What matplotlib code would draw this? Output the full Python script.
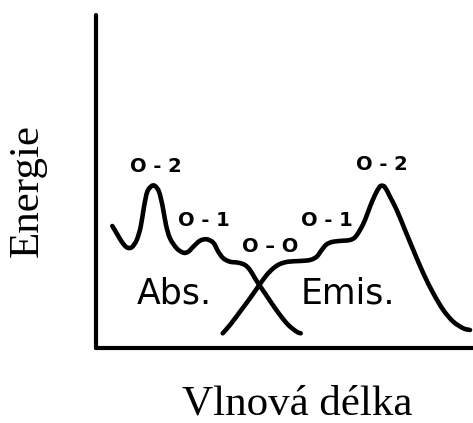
import matplotlib
matplotlib.use("Agg")
import matplotlib.pyplot as plt
from matplotlib.path import Path
from matplotlib.patches import PathPatch

# Absorption band (left) and emission band (right), arbitrary units
abs_x = [16.3, 20.7, 25.7, 30.7, 35.7, 40.7, 44.7, 48.0, 51.3, 55.7, 59.0, 63.0,
         66.7, 70.0, 74.0, 80.7, 87.3, 92.3, 97.3, 104.0, 110.7, 117.3, 122.3,
         127.3, 134.0, 142.3, 149.0, 154.0, 159.0, 163.3, 169.0, 175.7, 184.0,
         192.3, 200.7, 204.7]
abs_y = [122.0, 114.7, 106.3, 100.7, 100.7, 108.0, 121.3, 141.3, 156.3, 162.0,
         162.0, 156.3, 141.3, 123.0, 109.7, 99.7, 95.3, 96.3, 101.3, 107.3, 108.7,
         105.3, 96.3, 89.7, 86.3, 85.3, 83.0, 78.0, 69.7, 63.0, 54.7, 44.7, 33.0,
         23.0, 16.3, 14.7]

emis_x = [126.7, 134.0, 144.0, 154.0, 163.3, 170.7, 177.3, 184.0, 192.3, 204.0,
          214.0, 220.7, 225.7, 230.7, 237.3, 247.3, 254.0, 259.0, 264.0, 269.0,
          274.0, 279.0, 283.3, 285.7, 289.0, 294.0, 300.7, 309.0, 317.3, 327.3,
          337.3, 347.3, 357.3, 367.3, 374.0]
emis_y = [14.7, 23.0, 36.3, 49.7, 63.0, 73.0, 79.7, 84.0, 86.3, 87.0, 88.0, 91.3,
          98.0, 103.7, 106.3, 107.3, 108.0, 110.7, 118.0, 128.0, 141.3, 153.0,
          160.7, 162.3, 160.7, 151.3, 138.0, 118.0, 98.0, 74.7, 54.7, 38.0, 26.3,
          19.7, 18.0]

# Vibronic transition labels and their positions
band_labels = ["O - 2", "O - 1", "O – O", "O - 1", "O - 2"]
band_x = [60, 108, 174, 231, 286]
band_y = [182, 128, 102, 128, 184]


def smooth_path(xs, ys):
    """Bezier path passing through every point (Catmull-Rom tangents)."""
    pts = list(zip(xs, ys))
    verts = [pts[0]]
    codes = [Path.MOVETO]
    n = len(pts)
    for i in range(n - 1):
        p0 = pts[i - 1] if i > 0 else pts[i]
        p1 = pts[i]
        p2 = pts[i + 1]
        p3 = pts[i + 2] if i + 2 < n else pts[i + 1]
        c1 = (p1[0] + (p2[0] - p0[0]) / 6, p1[1] + (p2[1] - p0[1]) / 6)
        c2 = (p2[0] - (p3[0] - p1[0]) / 6, p2[1] - (p3[1] - p1[1]) / 6)
        verts += [c1, c2, p2]
        codes += [Path.CURVE4] * 3
    return Path(verts, codes)


fig = plt.figure(figsize=(4.73, 4.23), dpi=100)
ax = fig.add_axes([96 / 473, 75 / 423, 377 / 473, 333 / 423])
ax.set_xlim(0, 377)
ax.set_ylim(0, 333)

for xs, ys in ((abs_x, abs_y), (emis_x, emis_y)):
    ax.add_patch(PathPatch(smooth_path(xs, ys), fill=False, edgecolor="black",
                           lw=3.3, joinstyle="round", capstyle="round"))

for s in ("top", "right"):
    ax.spines[s].set_visible(False)
for s in ("left", "bottom"):
    ax.spines[s].set_linewidth(3.0)
    ax.spines[s].set_capstyle("round")
ax.set_xticks([])
ax.set_yticks([])

for txt, x, y in zip(band_labels, band_x, band_y):
    ax.text(x, y, txt, ha="center", va="center", fontsize=14,
            fontweight="bold", family="DejaVu Sans")

ax.text(78, 54, "Abs.", ha="center", va="center", fontsize=25,
        family="DejaVu Sans")
ax.text(252, 54, "Emis.", ha="center", va="center", fontsize=25,
        family="DejaVu Sans")

ax.set_xlabel("Vlnová délka", family="Liberation Serif", fontsize=31)
ax.set_ylabel("Energie", family="Liberation Serif", fontsize=31)
ax.xaxis.set_label_coords(0.533, -0.168)
ax.xaxis.label.set_va("center")
ax.yaxis.set_label_coords(-0.183, 0.474)
ax.yaxis.label.set_va("center")

fig.savefig("out.png", dpi=100)
